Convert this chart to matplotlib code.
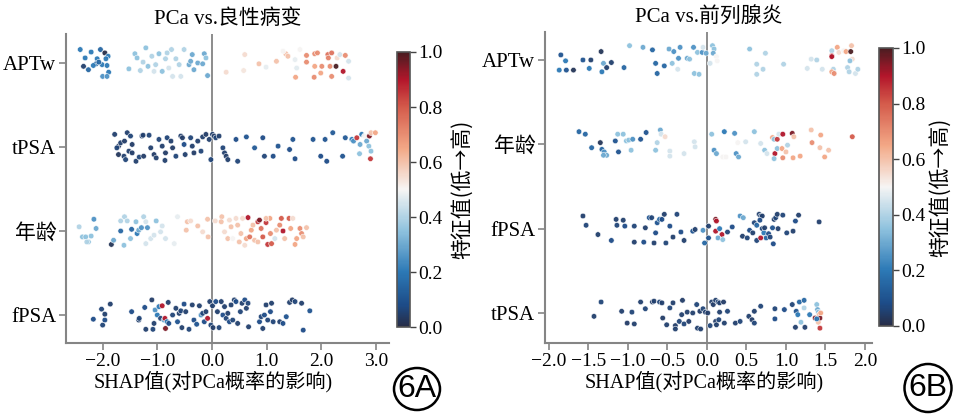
import matplotlib
matplotlib.use('Agg')
import matplotlib.pyplot as plt
from matplotlib.colors import LinearSegmentedColormap
from matplotlib.patches import Ellipse

plt.rcParams['font.family'] = ['Liberation Serif', 'Noto Sans CJK SC']
plt.rcParams['axes.unicode_minus'] = True

# ---------------- panel A: PCa vs. benign ----------------
a_features = ['fPSA', '年龄', 'tPSA', 'APTw']

a_aptw_x = [-2.41, -2.21, -2.04, -1.96, -1.90, -2.32, -2.10, -1.94, -2.35, -2.26, -2.12, -2.01, -1.92, -1.89, -2.00, -1.92, -2.17, -2.07,
            -1.52, -1.41, -1.37, -1.21, -1.26, -1.17, -1.10, -1.03, -0.97, -0.91, -0.85, -0.82, -0.74, -0.72, -0.66, -0.57, -0.60, -0.51,
            -0.42, -0.36, -0.33, -0.26, -0.17, -0.14, -0.11, -0.08, -1.31, -1.06, -0.79, -0.39,
            0.26, 0.60, 0.58, 0.86, 1.18, 0.99, 1.35, 1.39, 1.52, 1.55, 1.53, 1.73, 1.73, 1.88, 1.93, 1.88, 1.87, 2.01, 1.99, 2.12,
            2.19, 2.13, 2.16, 2.19, 2.27, 2.29, 2.40, 2.34, 2.44, 2.50, 2.50, 1.61, 1.30]
a_aptw_y = [0.16, 0.13, 0.16, 0.12, 0.08, 0.06, 0.05, 0.05, -0.04, -0.08, -0.01, -0.02, -0.03, -0.11, -0.16, -0.16, -0.03, 0.01,
            -0.07, 0.11, 0.06, 0.18, 0.01, -0.04, 0.08, -0.02, 0.11, -0.10, 0.05, 0.12, 0.16, -0.16, 0.05, -0.16, -0.02, 0.16,
            -0.02, 0.10, -0.08, 0.00, -0.01, 0.11, 0.06, -0.15, -0.09, -0.10, -0.06, 0.02,
            -0.11, 0.10, -0.09, -0.01, 0.02, -0.05, 0.11, 0.08, 0.04, -0.06, -0.17, 0.09, 0.01, 0.11, 0.12, -0.04, -0.17, -0.04, -0.12, 0.10,
            0.12, 0.06, -0.04, -0.16, -0.04, 0.06, -0.10, 0.10, 0.09, 0.02, -0.18, 0.16, 0.14]
a_aptw_v = [0.2, 0.2, 0.15, 0.0, 0.2, 0.2, 0.2, 0.2, 0.05, 0.15, 0.15, 0.2, 0.2, 0.2, 0.25, 0.25, 0.2, 0.15,
            0.35, 0.35, 0.35, 0.35, 0.4, 0.35, 0.4, 0.4, 0.35, 0.35, 0.4, 0.4, 0.4, 0.45, 0.4, 0.45, 0.4, 0.4,
            0.3, 0.3, 0.3, 0.3, 0.3, 0.3, 0.35, 0.3, 0.4, 0.45, 0.45, 0.3,
            0.55, 0.55, 0.53, 0.6, 0.6, 0.48, 0.6, 0.6, 0.48, 0.47, 0.65, 0.7, 0.7, 0.7, 0.7, 0.65, 0.7, 0.7, 0.65, 0.75,
            0.75, 0.72, 0.7, 0.7, 1.0, 0.55, 0.9, 0.45, 0.7, 0.45, 0.45, 0.5, 0.5]

a_tpsa_x = [-1.78, -1.71, -1.74, -1.67, -1.60, -1.55, -1.49, -1.46, -1.52, -1.71, -1.61, -1.58, -1.46, -1.39, -1.33, -1.28, -1.25,
            -1.26, -1.15, -1.12, -1.06, -1.02, -0.97, -0.91, -0.85, -0.86, -0.82, -0.75, -0.72, -0.66, -0.57, -0.54, -0.51, -0.49,
            -0.39, -0.36, -0.33, -0.26, -0.20, -0.17, -0.11, -0.05, -0.02, 0.01, 0.04, 0.07, 0.13, 0.20, 0.23, 0.26, 0.29, 0.44,
            0.47, 0.63, 0.78, 0.93, 0.96, 1.12, 1.21, 1.42, 1.48, 1.52, 1.85, 1.99, 2.07, 2.10, 2.21, 2.39, 2.44,
            2.56, 2.59, 2.65, 2.71, 2.74, 2.79, 2.88, 2.91, 2.99, 2.83, 2.87, 2.70, 2.91, 2.90]
a_tpsa_y = [0.15, 0.01, -0.01, 0.05, 0.07, 0.17, 0.13, 0.03, -0.05, -0.09, -0.11, -0.15, -0.07, -0.17, -0.12, 0.13, -0.11,
            0.14, 0.14, -0.01, -0.09, -0.13, 0.09, 0.01, -0.07, -0.16, 0.11, 0.07, -0.01, -0.11, 0.13, 0.11, 0.03, -0.09,
            0.11, 0.01, -0.07, 0.07, -0.05, 0.12, 0.15, 0.09, -0.15, 0.15, 0.13, 0.11, 0.13, -0.01, -0.07, -0.11, -0.15, 0.09,
            -0.17, 0.12, -0.01, 0.11, -0.11, -0.11, 0.01, -0.03, 0.09, -0.14, 0.09, -0.11, 0.09, -0.17, 0.17, -0.11, 0.11,
            0.09, 0.07, 0.11, 0.03, 0.15, 0.13, 0.13, 0.17, 0.17, 0.07, 0.01, -0.08, -0.05, -0.14]
a_tpsa_v = [0.05, 0.03, 0.06, 0.05, 0.04, 0.05, 0.06, 0.04, 0.05, 0.03, 0.05, 0.06, 0.04, 0.05, 0.06, 0.05, 0.04,
            0.05, 0.06, 0.05, 0.04, 0.05, 0.06, 0.05, 0.04, 0.05, 0.06, 0.05, 0.04, 0.06, 0.05, 0.04, 0.08, 0.05,
            0.06, 0.05, 0.04, 0.05, 0.06, 0.05, 0.04, 0.05, 0.06, 0.05, 0.04, 0.06, 0.05, 0.06, 0.05, 0.04, 0.05, 0.08,
            0.06, 0.1, 0.12, 0.08, 0.06, 0.08, 0.1, 0.08, 0.1, 0.08, 0.1, 0.08, 0.1, 0.08, 0.12, 0.1, 0.12,
            0.2, 0.25, 0.85, 0.3, 0.2, 0.5, 0.95, 0.6, 0.65, 0.3, 0.35, 0.35, 0.35, 0.85]

a_age_x = [-2.43, -2.37, -2.31, -2.26, -2.21, -2.16, -2.12, -2.29, -1.84, -1.80, -1.67, -1.67, -1.60, -1.55, -1.61, -1.47, -1.49,
           -1.39, -1.37, -1.34, -1.29, -1.25, -1.21, -1.18, -1.21, -1.12, -1.06, -1.02, -0.94, -0.85, -0.91, -0.69, -0.63,
           -0.45, -0.47, -0.39, -0.26, -0.17, -0.08, -0.07, 0.06, 0.18, 0.17, 0.23, 0.29, 0.35, 0.38, 0.44, 0.47, 0.50, 0.56,
           0.53, 0.63, 0.66, 0.69, 0.72, 0.75, 0.78, 0.84, 0.87, 0.90, 0.93, 0.99, 1.02, 1.06, 1.07, 1.09, 1.15, 1.18, 1.24,
           1.27, 1.30, 1.33, 1.41, 1.44, 1.52, 1.55, 1.61, 1.64, 1.67, 1.73, 1.48, 0.99, 0.60, 0.32, 0.84]
a_age_y = [0.05, -0.07, -0.07, -0.13, -0.06, 0.14, 0.03, -0.13, -0.16, -0.11, 0.00, 0.12, 0.17, 0.12, -0.17, 0.02, -0.09,
           0.11, -0.03, 0.01, 0.04, 0.17, 0.11, 0.04, -0.15, -0.09, -0.05, 0.12, -0.01, -0.09, 0.06, -0.15, 0.17,
           0.11, 0.01, 0.12, 0.06, -0.01, 0.14, -0.07, 0.12, 0.17, 0.11, -0.01, -0.09, 0.05, -0.09, 0.15, 0.07, -0.13, 0.15,
           -0.03, -0.09, 0.16, -0.07, 0.01, 0.07, -0.11, 0.11, 0.13, 0.03, -0.07, 0.10, -0.16, 0.15, -0.03, -0.15, -0.09, 0.01, 0.07,
           0.15, 0.00, -0.09, 0.15, 0.03, -0.16, -0.09, 0.03, -0.03, -0.07, 0.04, 0.15, 0.15, -0.17, 0.13, -0.13]
a_age_v = [0.4, 0.35, 0.35, 0.35, 0.35, 0.25, 0.3, 0.4, 0.02, 0.3, 0.15, 0.4, 0.4, 0.4, 0.35, 0.15, 0.35,
           0.35, 0.2, 0.3, 0.25, 0.4, 0.45, 0.25, 0.45, 0.45, 0.45, 0.35, 0.45, 0.45, 0.45, 0.48, 0.48,
           0.6, 0.6, 0.55, 0.6, 0.55, 0.6, 0.6, 0.55, 0.6, 0.6, 0.55, 0.6, 0.6, 0.5, 0.55, 0.6, 0.6, 0.55,
           0.6, 0.65, 0.9, 0.75, 0.65, 0.6, 0.6, 0.85, 0.95, 0.75, 0.8, 0.85, 0.85, 0.65, 0.7, 0.8, 0.45, 0.6, 0.7,
           0.8, 0.9, 0.6, 0.8, 0.65, 0.65, 0.65, 0.7, 0.7, 0.6, 0.6, 0.55, 0.6, 0.55, 0.55, 0.6]

a_fpsa_x = [-2.17, -2.02, -1.96, -1.96, -2.00, -1.86, -1.47, -1.34, -1.33, -1.23, -1.21, -1.10, -1.08, -1.06, -1.04, -1.00, -0.97,
            -0.91, -0.94, -0.88, -0.86, -0.82, -0.85, -0.80, -0.79, -0.72, -0.66, -0.63, -0.60, -0.57, -0.55, -0.51, -0.48, -0.42,
            -0.36, -0.33, -0.28, -0.23, -0.20, -0.17, -0.14, -0.11, -0.08, -0.04, -0.02, 0.01, 0.02, 0.07, 0.10, 0.13, 0.17, 0.20,
            0.23, 0.26, 0.29, 0.32, 0.35, 0.38, 0.41, 0.44, 0.47, 0.52, 0.55, 0.60, 0.63, 0.66, 0.67, 0.87, 0.90, 0.93, 0.96,
            0.99, 1.02, 1.09, 1.07, 1.12, 1.24, 1.30, 1.36, 1.42, 1.47, 1.52, 1.64, 1.67, 1.79]
a_fpsa_y = [-0.05, 0.07, 0.01, -0.06, -0.12, 0.13, 0.04, -0.06, -0.04, 0.09, -0.17, 0.18, -0.17, -0.10, 0.06, 0.00, 0.10,
            0.11, -0.04, -0.06, -0.04, -0.08, -0.16, 0.15, -0.10, 0.00, 0.08, -0.08, 0.02, 0.05, -0.15, 0.13, 0.04, -0.17,
            0.12, -0.06, -0.11, 0.11, 0.00, 0.02, -0.08, 0.04, -0.04, 0.16, -0.12, 0.11, -0.15, 0.16, 0.04, -0.15, 0.16, 0.00,
            0.10, -0.04, 0.02, -0.08, 0.12, -0.06, 0.18, 0.16, -0.10, 0.04, 0.14, 0.18, 0.08, 0.14, -0.14, -0.08, -0.02, -0.16, 0.00,
            0.12, -0.06, 0.14, 0.04, -0.08, -0.08, -0.10, -0.02, 0.15, 0.18, 0.16, 0.14, -0.18, 0.05]
a_fpsa_v = [0.08, 0.06, 0.05, 0.08, 0.06, 0.05, 0.08, 0.05, 0.06, 0.08, 0.05, 0.04, 0.06, 0.05, 0.25, 0.2, 0.2,
            0.9, 0.06, 0.3, 0.9, 0.2, 0.95, 0.05, 0.08, 0.06, 0.05, 0.1, 0.05, 0.06, 0.05, 0.08, 0.05, 0.06,
            0.05, 0.08, 0.1, 0.05, 0.25, 0.06, 0.08, 0.05, 0.9, 0.05, 0.06, 0.05, 0.04, 0.08, 0.05, 0.06, 0.05, 0.08,
            0.05, 0.06, 0.05, 0.08, 0.05, 0.06, 0.05, 0.08, 0.05, 0.06, 0.05, 0.08, 0.05, 0.06, 0.05, 0.08, 0.06, 0.05, 0.08,
            0.05, 0.06, 0.05, 0.08, 0.06, 0.05, 0.08, 0.1, 0.05, 0.04, 0.06, 0.05, 0.08, 0.1]

# ---------------- panel B: PCa vs. prostatitis ----------------
b_features = ['tPSA', 'fPSA', '年龄', 'APTw']

b_aptw_x = [-1.85, -1.79, -1.87, -1.78, -1.69, -1.57, -1.47, -1.49, -1.34, -1.31, -1.33, -1.27, -1.21, -1.05, -0.98, -0.81, -0.69,
            -0.65, -0.63, -0.54, -0.48, -0.42, -0.44, -0.37, -0.34, -0.36, -0.25, -0.22, -0.17, -0.16, -0.10, -0.12, -0.06, -0.01,
            -0.05, 0.07, 0.09, 0.08, 0.12, 0.04, 0.13, 0.54, 0.74, 0.63, 0.71, 0.63, 0.97, 1.27, 1.32, 1.39, 1.46, 1.58, 1.60,
            1.58, 1.61, 1.58, 1.58, 1.65, 1.67, 1.73, 1.76, 1.82, 1.83, 1.84, 1.81, 1.78, 1.80, 1.88, 1.91]
b_aptw_y = [0.06, -0.01, -0.12, -0.12, -0.12, 0.00, 0.00, -0.10, 0.10, -0.04, -0.14, -0.09, -0.03, -0.09, 0.17, 0.15, 0.12,
            -0.04, -0.16, -0.07, 0.13, 0.10, -0.04, -0.11, 0.15, 0.02, 0.02, 0.01, 0.15, -0.16, -0.17, 0.09, 0.09, 0.08,
            0.15, 0.17, 0.13, 0.08, 0.04, -0.04, -0.01, 0.13, 0.08, -0.05, -0.11, -0.17, -0.05, -0.10, 0.01, 0.00, -0.11, 0.11, -0.11,
            -0.14, -0.16, 0.05, 0.04, 0.15, 0.09, 0.11, 0.10, 0.10, 0.17, 0.01, -0.01, -0.09, -0.14, -0.16, -0.11]
b_aptw_v = [0.1, 0.2, 0.2, 0.1, 0.02, 0.1, 0.05, 0.2, 0.02, 0.3, 0.2, 0.05, 0.05, 0.15, 0.35, 0.3, 0.15,
            0.15, 0.15, 0.15, 0.3, 0.25, 0.35, 0.45, 0.25, 0.25, 0.3, 0.35, 0.25, 0.35, 0.35, 0.35, 0.25, 0.3,
            0.45, 0.35, 0.35, 0.3, 0.5, 0.45, 0.5, 0.35, 0.4, 0.4, 0.4, 0.4, 0.4, 0.45, 0.45, 0.4, 0.45, 0.4, 0.4,
            0.65, 0.7, 0.85, 0.9, 0.65, 0.55, 0.5, 0.65, 1.0, 0.6, 0.55, 0.35, 0.4, 0.4, 0.45, 0.4]

b_age_x = [-1.62, -1.54, -1.46, -1.35, -1.33, -1.30, -1.27, -1.31, -1.16, -1.12, -1.13, -1.06, -1.02, -0.99, -0.94, -0.84, -0.77,
           -0.96, -0.65, -0.63, -0.59, -0.58, -0.53, -0.47, -0.47, -0.29, -0.16, -0.15, 0.06, 0.09, 0.12, 0.20, 0.24, 0.22,
           0.35, 0.37, 0.40, 0.39, 0.49, 0.60, 0.68, 0.73, 0.76, 0.83, 0.85, 0.89, 0.91, 0.96, 0.86, 0.85, 0.89, 0.95, 0.96,
           1.00, 1.08, 1.10, 1.09, 1.18, 1.02, 1.32, 1.33, 1.44, 1.43, 1.49, 1.54, 1.84]
b_age_y = [0.15, 0.12, -0.04, 0.02, -0.06, -0.09, -0.13, -0.13, 0.04, -0.09, 0.12, 0.12, 0.04, 0.05, 0.06, 0.06, 0.14,
           -0.07, -0.07, 0.02, 0.17, 0.12, 0.09, -0.08, -0.14, -0.11, 0.03, -0.03, 0.12, -0.07, -0.11, -0.15, -0.15, 0.15,
           0.13, -0.11, -0.15, 0.02, 0.03, 0.15, 0.01, -0.07, -0.11, 0.08, 0.06, 0.06, 0.12, 0.12, -0.11, -0.17, -0.05, -0.05, -0.16,
           -0.09, 0.13, 0.09, -0.16, -0.14, -0.01, 0.17, 0.02, 0.11, -0.04, -0.15, -0.07, 0.09]
b_age_v = [0.15, 0.15, 0.15, 0.02, 0.15, 0.25, 0.3, 0.3, 0.1, 0.1, 0.35, 0.35, 0.35, 0.35, 0.25, 0.1, 0.1,
           0.35, 0.35, 0.4, 0.3, 0.45, 0.55, 0.45, 0.45, 0.45, 0.45, 0.45, 0.35, 0.25, 0.3, 0.5, 0.5, 0.2,
           0.25, 0.25, 0.3, 0.5, 0.45, 0.35, 0.45, 0.35, 0.45, 0.65, 0.35, 0.85, 0.45, 0.9, 0.9, 0.35, 0.35, 0.65, 0.7,
           0.6, 0.95, 0.6, 0.65, 0.65, 0.4, 0.6, 0.7, 0.65, 0.6, 0.65, 0.6, 0.8]

b_fpsa_x = [-1.57, -1.53, -1.38, -1.21, -1.15, -1.14, -1.06, -1.04, -0.92, -0.92, -0.80, -0.78, -0.73, -0.70, -0.67, -0.65, -0.63,
            -0.60, -0.57, -0.54, -0.52, -0.47, -0.43, -0.38, -0.33, -0.29, -0.18, -0.15, -0.05, -0.03, 0.02, 0.02, 0.11, 0.12,
            0.11, 0.19, 0.14, 0.20, 0.16, 0.26, 0.32, 0.42, 0.46, 0.45, 0.51, 0.54, 0.58, 0.60, 0.63, 0.66, 0.68, 0.70, 0.67,
            0.70, 0.72, 0.73, 0.75, 0.63, 0.68, 0.78, 0.80, 0.83, 0.84, 0.85, 0.87, 0.89, 0.96, 0.90, 1.01, 1.09, 1.12, 1.16, 1.42]
b_fpsa_y = [0.15, 0.04, -0.07, -0.14, 0.11, 0.04, 0.10, 0.03, 0.03, -0.16, -0.16, 0.01, 0.13, 0.13, -0.17, -0.05, 0.07,
            0.11, 0.11, 0.17, -0.17, 0.03, -0.10, 0.17, -0.04, -0.14, -0.03, -0.01, -0.02, -0.17, 0.03, -0.11, 0.11, 0.09,
            -0.03, -0.07, -0.11, -0.13, 0.00, -0.04, 0.02, 0.15, 0.13, -0.09, -0.11, -0.02, -0.05, 0.07, 0.04, 0.17, 0.15, 0.15, 0.10,
            0.00, -0.05, 0.01, -0.11, -0.14, -0.11, -0.06, -0.10, 0.01, -0.18, 0.11, 0.13, 0.17, 0.16, 0.00, -0.05, -0.03, 0.09, 0.16, 0.08]
b_fpsa_v = [0.05, 0.06, 0.05, 0.08, 0.05, 0.06, 0.05, 0.08, 0.06, 0.05, 0.08, 0.05, 0.1, 0.06, 0.05, 0.08, 0.1,
            0.15, 0.08, 0.05, 0.06, 0.08, 0.05, 0.06, 0.08, 0.05, 0.1, 0.05, 0.25, 0.15, 0.05, 0.1, 0.95, 0.9,
            0.9, 0.9, 0.3, 0.35, 0.2, 0.06, 0.08, 0.25, 0.3, 0.05, 0.06, 0.08, 0.05, 0.06, 0.15, 0.05, 0.06, 0.05, 0.08,
            0.06, 0.2, 0.05, 0.15, 0.06, 0.9, 0.08, 0.06, 0.1, 0.08, 0.05, 0.06, 0.05, 0.06, 0.05, 0.06, 0.05, 0.08, 0.05, 0.05]

b_tpsa_x = [-1.43, -1.34, -1.08, -1.01, -0.95, -0.92, -0.84, -0.78, -0.69, -0.67, -0.60, -0.57, -0.56, -0.51, -0.47, -0.43, -0.40,
            -0.40, -0.35, -0.32, -0.31, -0.29, -0.25, -0.23, -0.18, -0.13, -0.12, -0.09, -0.08, -0.05, -0.02, 0.01, 0.04, 0.06,
            0.08, 0.11, 0.14, 0.16, 0.11, 0.12, 0.15, 0.16, 0.21, 0.22, 0.26, 0.36, 0.42, 0.53, 0.57, 0.60, 0.60, 0.68, 0.86,
            0.86, 0.98, 1.08, 1.12, 1.13, 1.15, 1.17, 1.19, 1.23, 1.23, 1.24, 1.30, 1.37, 1.39, 1.40, 1.41, 1.42, 1.41, 1.43,
            1.43, 1.44, 1.39]
b_tpsa_y = [-0.04, 0.13, 0.02, -0.12, 0.01, -0.13, 0.13, 0.05, 0.13, 0.14, 0.13, 0.12, -0.06, -0.14, 0.06, 0.12, -0.15,
            -0.19, -0.10, -0.02, 0.15, -0.13, 0.01, -0.10, 0.00, 0.10, -0.18, 0.02, -0.19, 0.05, 0.01, 0.00, -0.15, 0.13,
            0.10, 0.15, 0.13, 0.12, -0.10, -0.14, -0.08, 0.01, 0.13, -0.12, 0.02, -0.12, -0.10, -0.04, -0.08, -0.12, 0.02, 0.08, -0.07,
            0.05, 0.04, 0.10, -0.17, 0.02, -0.02, 0.13, -0.11, 0.15, 0.06, -0.17, -0.02, -0.06, 0.10, 0.04, 0.01, -0.02, -0.11, -0.06,
            -0.18, 0.00, -0.07]
b_tpsa_v = [0.05, 0.06, 0.05, 0.04, 0.06, 0.05, 0.05, 0.06, 0.04, 0.05, 0.06, 0.05, 0.04, 0.05, 0.06, 0.05, 0.04,
            0.05, 0.06, 0.05, 0.04, 0.06, 0.05, 0.04, 0.05, 0.06, 0.05, 0.04, 0.05, 0.06, 0.05, 0.04, 0.06, 0.05,
            0.04, 0.05, 0.06, 0.05, 0.04, 0.05, 0.06, 0.05, 0.04, 0.05, 0.06, 0.05, 0.06, 0.05, 0.04, 0.06, 0.05, 0.06, 0.08,
            0.06, 0.08, 0.06, 0.05, 0.1, 0.2, 0.15, 0.35, 0.15, 0.4, 0.05, 0.2, 0.95, 0.35, 0.3, 0.35, 0.6, 0.6, 0.95,
            0.85, 0.65, 0.2]

# SHAP-like red/blue map with dark ends
shap_cmap = LinearSegmentedColormap.from_list('shap_rdbu', [
    (0.0, '#272d47'), (0.08, '#1d4c88'), (0.2, '#2c79b6'), (0.35, '#8fc2de'),
    (0.5, '#f6f5f4'), (0.65, '#f3a886'), (0.8, '#d45b4b'), (0.9, '#b3162b'), (1.0, '#4a1d21')])

spine_gray = '#858585'


def draw_panel(ax, cax, rows, features, title, xlim, ylim, xticks, label_x, cbar_pad):
    for i, (xs, ys, vs) in enumerate(rows):
        sc = ax.scatter(xs, [i + y for y in ys], c=vs, cmap=shap_cmap, vmin=0, vmax=1,
                        s=16, edgecolors='white', linewidths=0.4, alpha=0.95, zorder=3)
    ax.axvline(0, color='#8c8c8c', lw=1.4, zorder=1)
    ax.set_xlim(*xlim)
    ax.set_ylim(*ylim)
    ax.set_yticks(range(len(features)))
    ax.set_yticklabels(features, fontsize=15)
    ax.set_xticks(xticks)
    ax.set_xticklabels(['{:.1f}'.format(t).replace('-', '\u2212') for t in xticks], fontsize=14)
    for side in ['top', 'right']:
        ax.spines[side].set_visible(False)
    for side in ['left', 'bottom']:
        ax.spines[side].set_color(spine_gray)
        ax.spines[side].set_linewidth(1.5)
    ax.tick_params(direction='out', length=5, width=1.2, color=spine_gray, pad=2)
    ax.set_title(title, fontsize=15, pad=7)
    ax.set_xlabel('SHAP值(对PCa概率的影响)', fontsize=14.5, labelpad=1)
    ax.xaxis.label.set_x(label_x)

    cbar = plt.colorbar(sc, cax=cax, ticks=[0, 0.2, 0.4, 0.6, 0.8, 1.0])
    cbar.ax.set_yticklabels(['0.0', '0.2', '0.4', '0.6', '0.8', '1.0'], fontsize=14)
    cbar.ax.tick_params(length=4, width=1.0, color='#444444', pad=2)
    cbar.outline.set_edgecolor('#555555')
    cbar.outline.set_linewidth(1.2)
    cbar.set_label('特征值(低→高)', fontsize=15, labelpad=cbar_pad,
                   family=['Noto Sans CJK SC', 'DejaVu Sans'])
    cbar.solids.set_alpha(1)


fig = plt.figure(figsize=(9.54, 4.15), dpi=100)

ax_a = fig.add_axes([0.0692, 0.1735, 0.3386, 0.7446])
cax_a = fig.add_axes([0.4161, 0.212, 0.0136, 0.6627])
ax_b = fig.add_axes([0.5713, 0.1735, 0.3428, 0.749])
cax_b = fig.add_axes([0.9214, 0.2145, 0.0147, 0.670])

a_rows = [(a_fpsa_x, a_fpsa_y, a_fpsa_v), (a_age_x, a_age_y, a_age_v),
          (a_tpsa_x, a_tpsa_y, a_tpsa_v), (a_aptw_x, a_aptw_y, a_aptw_v)]
b_rows = [(b_tpsa_x, b_tpsa_y, b_tpsa_v), (b_fpsa_x, b_fpsa_y, b_fpsa_v),
          (b_age_x, b_age_y, b_age_v), (b_aptw_x, b_aptw_y, b_aptw_v)]

draw_panel(ax_a, cax_a, a_rows, a_features, 'PCa vs.良性病变',
           (-2.67, 3.24), (-0.333, 3.345), [-2.0, -1.0, 0.0, 1.0, 2.0, 3.0], 0.457, 7)
draw_panel(ax_b, cax_b, b_rows, b_features, 'PCa vs.前列腺炎',
           (-2.05, 2.09), (-0.356, 3.33), [-2.0, -1.5, -1.0, -0.5, 0.0, 0.5, 1.0, 1.5, 2.0], 0.488, 3)

# circled panel tags
for cx, cy, w, h, tag in [(417, 389, 46, 42, '6A'), (928, 388, 47, 48, '6B')]:
    fx, fy = cx / 954, (415 - cy) / 415
    fig.patches.append(Ellipse((fx, fy), w / 954, h / 415, transform=fig.transFigure,
                               fill=False, edgecolor='black', linewidth=1.8))
    fig.text(fx, fy, tag, ha='center', va='center', fontsize=23,
             family=['Liberation Sans', 'DejaVu Sans'])

fig.savefig('out.png', dpi=100)
